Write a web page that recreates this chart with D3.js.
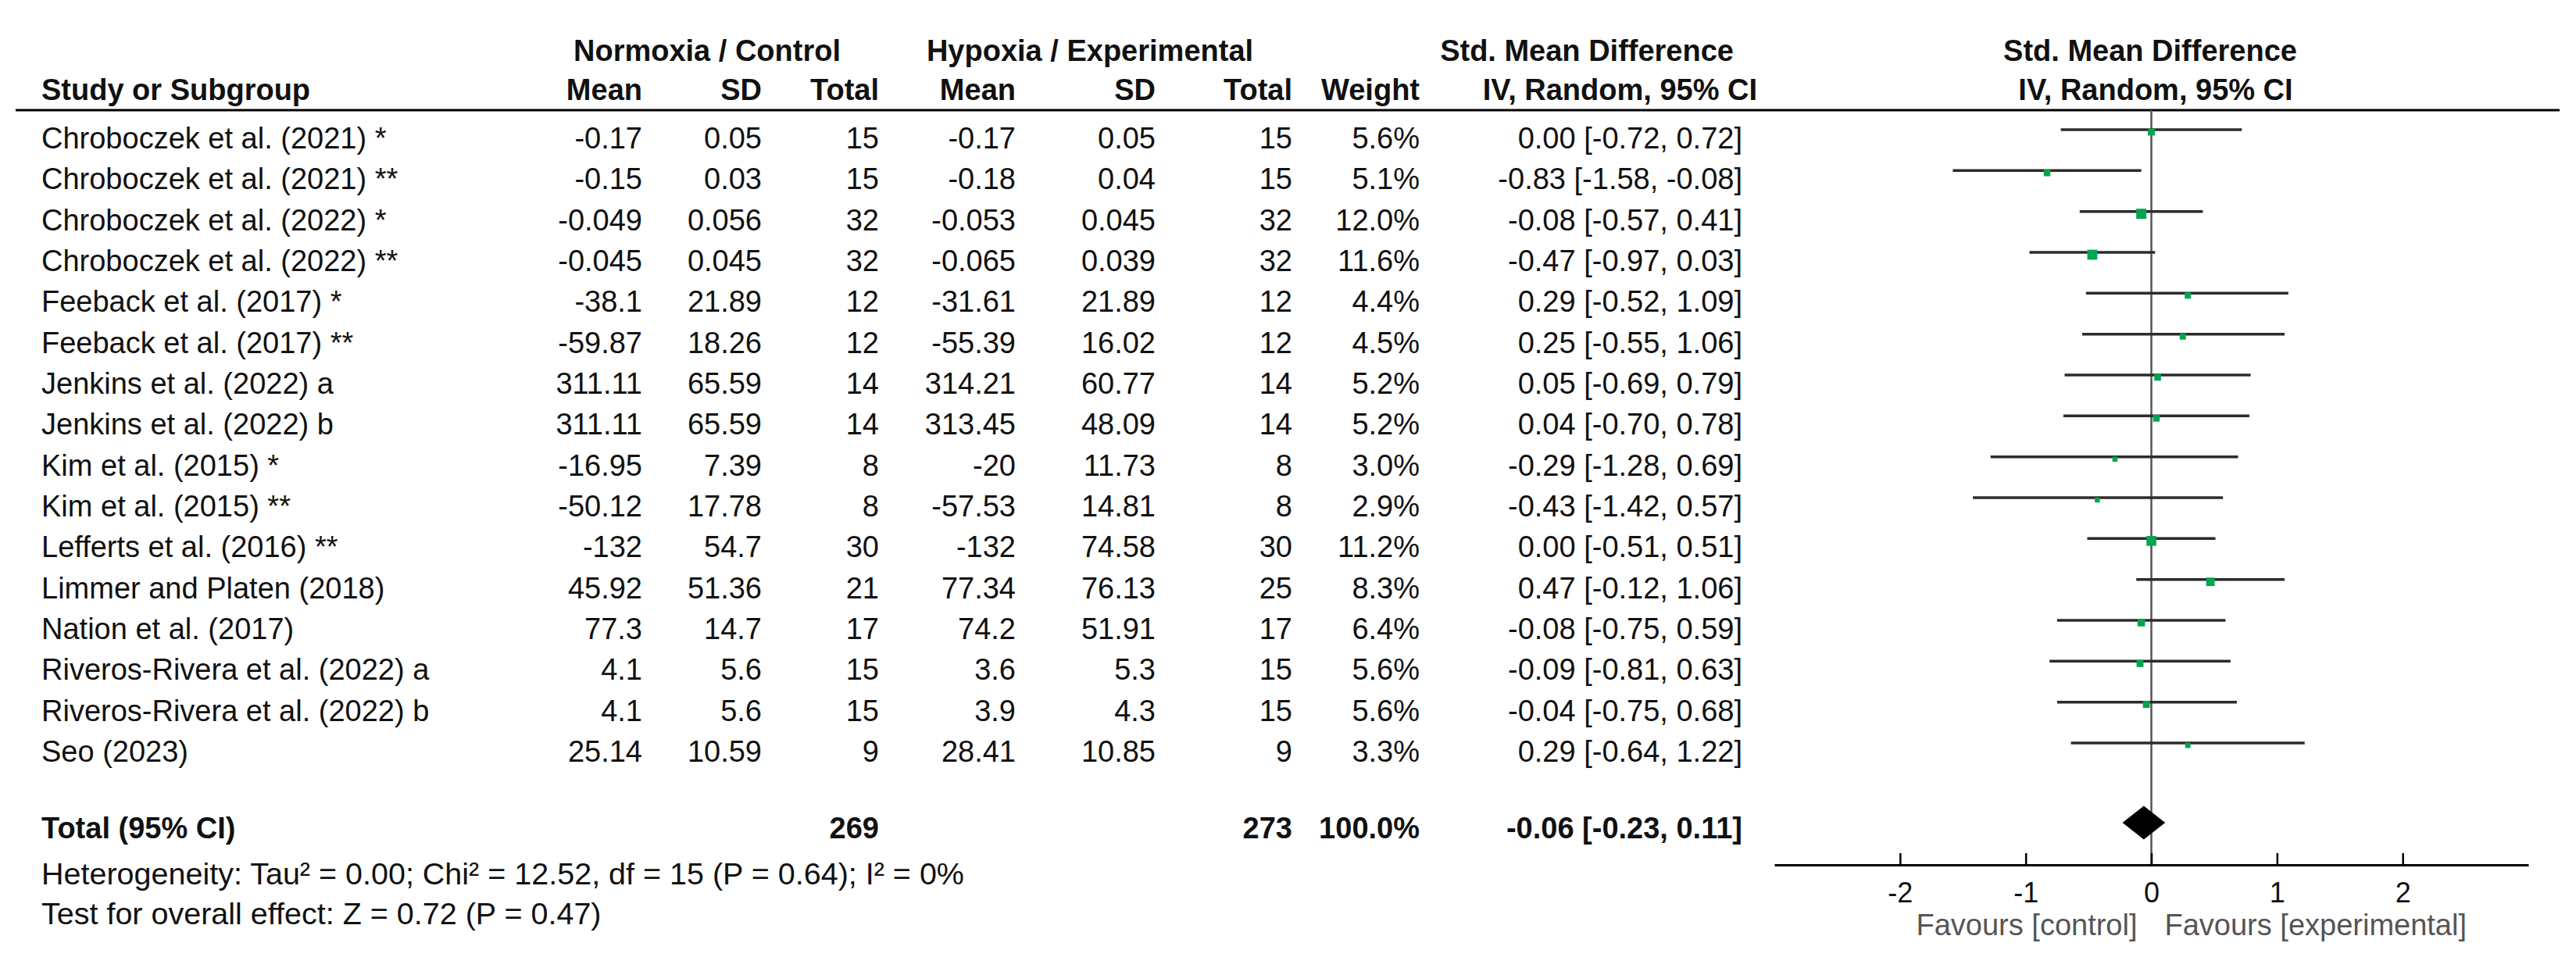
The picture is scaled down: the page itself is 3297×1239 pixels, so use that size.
<!DOCTYPE html>
<html>
<head>
<meta charset="utf-8">
<script src="https://cdn.jsdelivr.net/npm/d3@7"></script>
<style>
  body { margin: 0; background: #fff; }
  svg { display: block; font-family: "Liberation Sans", Arial, sans-serif; }
</style>
</head>
<body>
<div id="visualization"></div>
<script>
const studies = [
    "Chroboczek et al. (2021) *", "Chroboczek et al. (2021) **",
    "Chroboczek et al. (2022) *", "Chroboczek et al. (2022) **",
    "Feeback et al. (2017) *", "Feeback et al. (2017) **",
    "Jenkins et al. (2022) a", "Jenkins et al. (2022) b",
    "Kim et al. (2015) *", "Kim et al. (2015) **",
    "Lefferts et al. (2016) **", "Limmer and Platen (2018)",
    "Nation et al. (2017)", "Riveros-Rivera et al. (2022) a",
    "Riveros-Rivera et al. (2022) b", "Seo (2023)"
];
const ctrlMean = [-0.17, -0.15, -0.049, -0.045, -38.1, -59.87, 311.11, 311.11, -16.95, -50.12, -132, 45.92, 77.3, 4.1, 4.1, 25.14];
const ctrlSD = [0.05, 0.03, 0.056, 0.045, 21.89, 18.26, 65.59, 65.59, 7.39, 17.78, 54.7, 51.36, 14.7, 5.6, 5.6, 10.59];
const ctrlN = [15, 15, 32, 32, 12, 12, 14, 14, 8, 8, 30, 21, 17, 15, 15, 9];
const expMean = [-0.17, -0.18, -0.053, -0.065, -31.61, -55.39, 314.21, 313.45, -20, -57.53, -132, 77.34, 74.2, 3.6, 3.9, 28.41];
const expSD = [0.05, 0.04, 0.045, 0.039, 21.89, 16.02, 60.77, 48.09, 11.73, 14.81, 74.58, 76.13, 51.91, 5.3, 4.3, 10.85];
const expN = [15, 15, 32, 32, 12, 12, 14, 14, 8, 8, 30, 25, 17, 15, 15, 9];
const weight = [5.6, 5.1, 12.0, 11.6, 4.4, 4.5, 5.2, 5.2, 3.0, 2.9, 11.2, 8.3, 6.4, 5.6, 5.6, 3.3];
const smd = [0.00, -0.83, -0.08, -0.47, 0.29, 0.25, 0.05, 0.04, -0.29, -0.43, 0.00, 0.47, -0.08, -0.09, -0.04, 0.29];
const ciLow = [-0.72, -1.58, -0.57, -0.97, -0.52, -0.55, -0.69, -0.70, -1.28, -1.42, -0.51, -0.12, -0.75, -0.81, -0.75, -0.64];
const ciHigh = [0.72, -0.08, 0.41, 0.03, 1.09, 1.06, 0.79, 0.78, 0.69, 0.57, 0.51, 1.06, 0.59, 0.63, 0.68, 1.22];

const totalCtrlN = 269;
const totalExpN = 273;
const totalWeight = 100.0;
const totalSmd = -0.06;
const totalLow = -0.23;
const totalHigh = 0.11;

const axisTicks = [-2, -1, 0, 1, 2];
const axisDomain = [-3, 3];
const heterogeneity = "Heterogeneity: Tau\u00b2 = 0.00; Chi\u00b2 = 12.52, df = 15 (P = 0.64); I\u00b2 = 0%";
const overallEffect = "Test for overall effect: Z = 0.72 (P = 0.47)";

document.addEventListener('DOMContentLoaded', function() {
    const width = 3297, height = 1239;
    const fs = 38;

    const svg = d3.select("#visualization").append("svg")
        .attr("width", width)
        .attr("height", height);
    svg.append("rect").attr("width", width).attr("height", height).attr("fill", "#fff");

    const rows = studies.map((s, i) => ({
        name: s, cm: ctrlMean[i], csd: ctrlSD[i], cn: ctrlN[i],
        em: expMean[i], esd: expSD[i], en: expN[i],
        w: weight[i], est: smd[i], lo: ciLow[i], hi: ciHigh[i]
    }));

    // row baselines
    const y = d3.scalePoint().domain(studies).range([190, 975]);
    const x = d3.scaleLinear().domain(axisDomain).range([2271, 3236]);
    const size = d3.scaleSqrt().domain([0, 12]).range([0, 13]);
    const fmt2 = v => v.toFixed(2);
    const ci = (e, l, h) => `${fmt2(e)} [${fmt2(l)}, ${fmt2(h)}]`;

    const txt = (t, xx, yy, anchor, bold, fill, size) => svg.append("text")
        .attr("x", xx).attr("y", yy)
        .attr("text-anchor", anchor || "start")
        .attr("font-size", size || fs)
        .attr("font-weight", bold ? "bold" : "normal")
        .attr("fill", fill || "#111")
        .text(t);

    // headers
    txt("Normoxia / Control", 905, 78, "middle", true);
    txt("Hypoxia / Experimental", 1395, 78, "middle", true);
    txt("Std. Mean Difference", 2219, 78, "end", true);
    txt("Std. Mean Difference", 2752, 78, "middle", true);

    const cols = [
        { key: "cm", head: "Mean", x: 822 },
        { key: "csd", head: "SD", x: 975 },
        { key: "cn", head: "Total", x: 1125 },
        { key: "em", head: "Mean", x: 1300 },
        { key: "esd", head: "SD", x: 1479 },
        { key: "en", head: "Total", x: 1654 },
        { key: "w", head: "Weight", x: 1817 }
    ];

    txt("Study or Subgroup", 53, 128, "start", true);
    cols.forEach(c => txt(c.head, c.x, 128, "end", true));
    txt("IV, Random, 95% CI", 2249, 128, "end", true);
    txt("IV, Random, 95% CI", 2759, 128, "middle", true);

    svg.append("line")
        .attr("x1", 20).attr("x2", 3276)
        .attr("y1", 141).attr("y2", 141)
        .attr("stroke", "#000").attr("stroke-width", 3);

    // table body
    const body = svg.append("g")
        .attr("font-size", fs)
        .attr("fill", "#111");

    const rowG = body.selectAll(".row")
        .data(rows)
        .enter().append("g")
        .attr("class", "row")
        .attr("transform", d => `translate(0,${y(d.name)})`);

    rowG.append("text").attr("x", 53).text(d => d.name);
    cols.forEach(c => {
        rowG.append("text")
            .attr("x", c.x)
            .attr("text-anchor", "end")
            .text(d => c.key === "w" ? d.w.toFixed(1) + "%" : String(d[c.key]));
    });
    rowG.append("text")
        .attr("x", 2230)
        .attr("text-anchor", "end")
        .text(d => ci(d.est, d.lo, d.hi));

    // total row
    const yTot = 1073;
    txt("Total (95% CI)", 53, yTot, "start", true);
    txt(String(totalCtrlN), 1125, yTot, "end", true);
    txt(String(totalExpN), 1654, yTot, "end", true);
    txt(totalWeight.toFixed(1) + "%", 1817, yTot, "end", true);
    txt(ci(totalSmd, totalLow, totalHigh), 2230, yTot, "end", true);

    txt(heterogeneity, 53, 1132, "start", false, "#111", 39.5);
    txt(overallEffect, 53, 1183, "start", false, "#111", 39.5);

    // plot
    const axisY = 1107;
    svg.append("line")
        .attr("x1", x(0)).attr("x2", x(0))
        .attr("y1", 141).attr("y2", axisY)
        .attr("stroke", "#555").attr("stroke-width", 2.5);

    svg.selectAll(".ci")
        .data(rows)
        .enter().append("line")
        .attr("class", "ci")
        .attr("x1", d => x(d.lo)).attr("x2", d => x(d.hi))
        .attr("y1", d => y(d.name) - 24).attr("y2", d => y(d.name) - 24)
        .attr("stroke", "#2b2b2b").attr("stroke-width", 3.5);

    svg.selectAll(".box")
        .data(rows)
        .enter().append("rect")
        .attr("class", "box")
        .attr("x", d => x(d.est) - size(d.w) / 2)
        .attr("y", d => y(d.name) - 21 - size(d.w) / 2)
        .attr("width", d => size(d.w))
        .attr("height", d => size(d.w))
        .attr("fill", "#00a54f");

    const dy = yTot - 20;
    svg.append("polygon")
        .attr("points", [
            [x(totalLow), dy], [x(totalSmd), dy - 21.5],
            [x(totalHigh), dy], [x(totalSmd), dy + 21.5]
        ].map(p => p.join(",")).join(" "))
        .attr("fill", "#000");

    const axis = svg.append("g")
        .attr("transform", `translate(0,${axisY})`)
        .call(d3.axisBottom(x)
            .tickValues(axisTicks)
            .tickFormat(d => String(d))
            .tickSizeInner(-15)
            .tickSizeOuter(0)
            .tickPadding(22));
    axis.select(".domain").attr("stroke", "#000").attr("stroke-width", 3);
    axis.selectAll(".tick line").attr("stroke", "#000").attr("stroke-width", 2.5);
    axis.selectAll(".tick text")
        .attr("font-size", 36)
        .attr("font-family", "Liberation Sans, Arial, sans-serif")
        .attr("fill", "#111");

    txt("Favours [control]", x(0) - 18, 1197, "end", false, "#555");
    txt("Favours [experimental]", x(0) + 17, 1197, "start", false, "#555");
});
</script>
</body>
</html>
